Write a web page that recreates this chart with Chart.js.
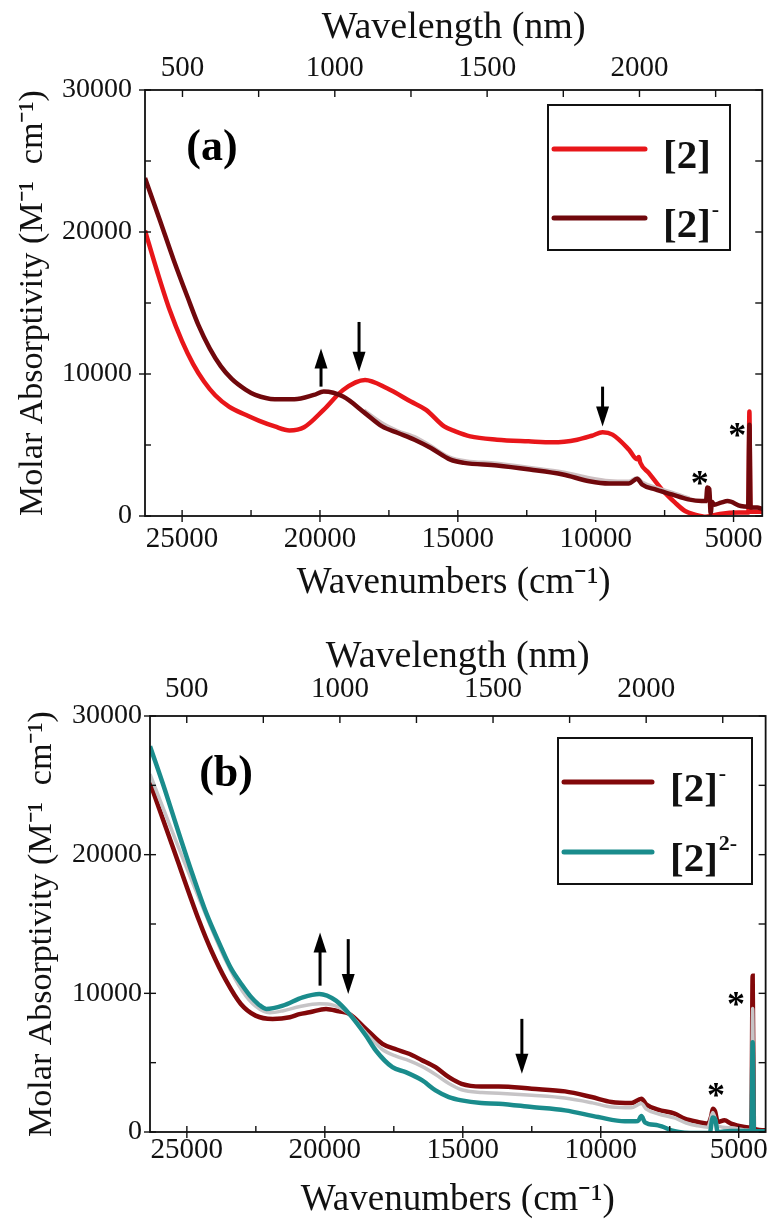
<!DOCTYPE html>
<html>
<head>
<meta charset="utf-8">
<script src="https://cdn.jsdelivr.net/npm/chart.js@4.4.1/dist/chart.umd.min.js"></script>
<style>
  html, body { margin: 0; padding: 0; background: #fff; }
  .panel { position: absolute; left: 0; width: 772px; height: 610px; }
  #pa { top: 0; }
  #pb { top: 610px; }
</style>
</head>
<body>
<div class="panel" id="pa"><canvas id="chartA" width="772" height="610"></canvas></div>
<div class="panel" id="pb"><canvas id="chartB" width="772" height="610"></canvas></div>
<script>
// ---- tick values (shared) ----
const wnMajorTicks = [25000, 20000, 15000, 10000, 5000];
const wnMinorTicks = [22500, 17500, 12500, 7500];
const nmMajorTicks = [500, 1000, 1500, 2000];
const nmMinorTicks = [750, 1250, 1750, 2250];
const absMajorTicks = [0, 10000, 20000, 30000];
const absMinorTicks = [5000, 15000, 25000];

// ---- panel (a): [2] and [2]- ----
const wnRedA = [26346, 25900, 25450, 25000, 24600, 24200, 23800, 23300, 22700, 22200, 21638, 21107, 20577, 19869, 19161, 18365, 17568, 16705, 16153, 15495, 15091, 14550, 13580, 12437, 11553, 10668, 10138, 9750, 9390, 8795, 8500, 8436, 8380, 8077, 7598, 7120, 6760, 6400, 6000, 5500, 4800, 4460, 4425, 4390, 3959];
const absRedA = [20100, 17200, 14500, 12300, 10700, 9450, 8500, 7700, 7125, 6700, 6307, 6027, 6250, 7475, 8877, 9578, 8994, 8060, 7475, 6307, 5957, 5606, 5375, 5256, 5186, 5373, 5653, 5900, 5730, 4675, 4000, 4150, 3750, 3040, 1870, 940, 350, 100, -50, 150, 250, 250, 7360, 300, 300];

const wnDarkA = [26346, 25800, 25300, 24800, 24400, 24000, 23600, 23200, 22700, 22345, 21638, 20930, 20222, 19865, 19161, 18367, 17746, 17170, 16572, 15977, 15269, 14778, 13582, 12386, 11189, 10232, 9514, 8795, 8496, 8317, 7838, 7240, 6641, 6162, 6000, 5950, 5880, 5830, 5780, 5700, 5455, 5216, 4738, 4470, 4425, 4380, 4140, 3959];
const absDarkA = [23800, 20800, 18000, 15400, 13400, 11800, 10550, 9650, 8900, 8526, 8223, 8223, 8526, 8760, 8410, 7246, 6307, 5844, 5375, 4789, 3971, 3742, 3560, 3270, 2920, 2450, 2290, 2290, 2620, 2220, 1870, 1520, 1170, 1050, 1050, 2000, 1900, 200, 1000, 800, 940, 1050, 700, 650, 6430, 600, 590, 500];

const wnGrayA = [18400, 17700, 17200, 16500, 16000, 15300, 14700, 13600, 12400, 11200, 10200, 9500, 8800, 8500, 8300, 7800, 7200, 6600];
const absGrayA = [7450, 6500, 6020, 5520, 4960, 4150, 3880, 3720, 3420, 3100, 2680, 2480, 2440, 2700, 2380, 2000, 1650, 1250];

const legendBaseA = ['[2]', '[2]'];
const legendSupA = ['', '-'];
const arrowWnA = [19962, 18583, 9750];
const arrowFromA = [9110, 13665, 9110];
const arrowToA = [11800, 10160, 6307];
const starWnA = [6227, 4867];
const starAbsA = [2690, 6076];

// ---- panel (b): [2]- and [2]2- ----
const wnDarkB = [26336, 25500, 24556, 24111, 23578, 23044, 22511, 21889, 21267, 20921, 20556, 19957, 19489, 19115, 18513, 17913, 17400, 16949, 16500, 15987, 15505, 15044, 14333, 13700, 12498, 11293, 10332, 9610, 8888, 8527, 8347, 7924, 7322, 6961, 6480, 6119, 6000, 5939, 5860, 5758, 5517, 5277, 4794, 4540, 4495, 4450, 4025];
const absDarkB = [25180, 20500, 15230, 13069, 10911, 9232, 8393, 8153, 8273, 8500, 8633, 8878, 8700, 8518, 7439, 6360, 5950, 5640, 5200, 4676, 3957, 3477, 3285, 3290, 3120, 2930, 2520, 2160, 2090, 2400, 1990, 1610, 1320, 960, 720, 600, 1100, 1680, 1500, 720, 840, 600, 360, 300, 11270, 250, 120];

const wnTealB = [26336, 25800, 25300, 24800, 24300, 23800, 23400, 23000, 22700, 22400, 22123, 21524, 20801, 20199, 19596, 19115, 18513, 18152, 17552, 17070, 16469, 15987, 15505, 15044, 14333, 13700, 12498, 11293, 10090, 9127, 8650, 8527, 8400, 7924, 7322, 6961, 6500, 6050, 5940, 5850, 5760, 5300, 4540, 4495, 4450, 4025];
const absTealB = [27820, 24700, 21600, 18600, 15800, 13500, 11800, 10600, 9800, 9200, 8878, 9115, 9712, 9957, 9475, 8518, 6957, 5878, 4676, 4317, 3719, 3000, 2518, 2278, 2086, 2040, 1800, 1560, 1080, 770, 800, 1150, 700, 480, 50, -50, -80, -50, 1050, 900, 0, 80, 80, 6475, 80, 50];

const wnGrayB = [26336, 25300, 24300, 23600, 23000, 22500, 22000, 21500, 20900, 20200, 19700, 19115, 18513, 17913, 17400, 16949, 16500, 15987, 15505, 15044, 14300, 13700, 12500, 11300, 10300, 9600, 8900, 8530, 8350, 7900, 7300, 6900, 6500, 6120, 5940, 5760, 5300, 4800, 4540, 4495, 4450, 4025];
const absGrayB = [25800, 20500, 15600, 12400, 10200, 9050, 8600, 8750, 9050, 9250, 9150, 8518, 7150, 5950, 5450, 5150, 4750, 4150, 3500, 3050, 2850, 2800, 2650, 2450, 2100, 1800, 1750, 2050, 1650, 1300, 1000, 650, 450, 350, 1400, 450, 300, 150, 100, 8900, 100, 50];

const legendBaseB = ['[2]', '[2]'];
const legendSupB = ['-', '2-'];
const arrowWnB = [20173, 19152, 12859];
const arrowFromB = [10554, 13910, 8158];
const arrowToB = [14388, 9957, 4201];
const starWnB = [5820, 5098];
const starAbsB = [3000, 9597];

Chart.defaults.font.family = "'Liberation Serif', 'Times New Roman', serif";
Chart.defaults.color = '#111';

const SERIF = "'Liberation Serif', 'Times New Roman', serif";

function pts(xs, ys) {
  return xs.map((x, i) => ({ x: x, y: ys[i] }));
}

function series(label, xs, ys, color, width, order) {
  return {
    label: label,
    data: pts(xs, ys),
    borderColor: color,
    backgroundColor: color,
    borderWidth: width,
    pointRadius: 0,
    cubicInterpolationMode: 'monotone',
    fill: false,
    order: order
  };
}

function fixedSize(px) {
  return function (scale) {
    if (scale.isHorizontal()) scale.height = px;
    else scale.width = px;
  };
}

function setTicks(values) {
  return function (scale) {
    scale.ticks = values.map(v => ({ value: v }));
  };
}

function buildScales(p) {
  return {
    x: {
      type: 'linear', position: 'bottom', reverse: true,
      min: p.wnMin, max: p.wnMax,
      afterBuildTicks: setTicks(wnMajorTicks),
      afterFit: fixedSize(p.bottomH),
      ticks: { font: { size: 29, lineHeight: 1 }, padding: p.xTickPad, maxRotation: 0, autoSkip: false, callback: v => String(v) },
      grid: { display: false, drawTicks: false },
      border: { display: false },
      title: { display: true, text: 'Wavenumbers (cm\u207B\u00B9)', font: { size: 37, lineHeight: 1 }, padding: { top: 0, bottom: p.xTitlePad } }
    },
    xTop: {
      type: 'linear', axis: 'x', position: 'top',
      min: p.nmMin, max: p.nmMax,
      afterBuildTicks: setTicks(nmMajorTicks),
      afterFit: fixedSize(p.topH),
      ticks: { font: { size: 29, lineHeight: 1 }, padding: p.topTickPad, maxRotation: 0, autoSkip: false, callback: v => String(v) },
      grid: { display: false, drawTicks: false },
      border: { display: false },
      title: { display: true, text: 'Wavelength (nm)', font: { size: 38, lineHeight: 1 }, padding: { top: p.topTitlePad, bottom: 0 } }
    },
    y: {
      type: 'linear', position: 'left',
      min: 0, max: 30000,
      afterBuildTicks: setTicks(absMajorTicks),
      afterFit: fixedSize(p.leftW),
      ticks: { font: { size: 28, lineHeight: 1 }, padding: p.yTickPad, callback: v => String(v) },
      grid: { display: false, drawTicks: false },
      border: { display: false },
      title: { display: true, text: 'Molar Absorptivity (M\u207B\u00B9  cm\u207B\u00B9)', font: { size: 34, lineHeight: 1 }, padding: { top: p.yTitlePad, bottom: 0 } }
    }
  };
}

function seg(ctx, x0, y0, x1, y1) {
  ctx.beginPath();
  ctx.moveTo(x0, y0);
  ctx.lineTo(x1, y1);
  ctx.stroke();
}

function makeDecor(p) {
  return {
    id: 'decor',
    afterDatasetsDraw(chart) {
      const ctx = chart.ctx;
      const ca = chart.chartArea;
      const x = chart.scales.x, y = chart.scales.y, xt = chart.scales.xTop;
      ctx.save();

      // frame
      ctx.strokeStyle = '#111';
      ctx.lineWidth = 1.8;
      ctx.strokeRect(ca.left, ca.top, ca.right - ca.left, ca.bottom - ca.top);

      // tick marks
      const T = 6;
      ctx.lineWidth = 1.4;
      wnMajorTicks.forEach(v => { const px = x.getPixelForValue(v); seg(ctx, px, ca.bottom - T, px, ca.bottom + T); });
      wnMinorTicks.forEach(v => { const px = x.getPixelForValue(v); seg(ctx, px, ca.bottom - T, px, ca.bottom); });
      nmMajorTicks.concat(nmMinorTicks).forEach(v => { const px = xt.getPixelForValue(v); seg(ctx, px, ca.top, px, ca.top + T + 1); });
      absMajorTicks.forEach(v => {
        const py = y.getPixelForValue(v);
        seg(ctx, ca.left - T, py, ca.left + T, py);
        seg(ctx, ca.right - T - 1, py, ca.right, py);
      });
      absMinorTicks.forEach(v => {
        const py = y.getPixelForValue(v);
        seg(ctx, ca.left, py, ca.left + T, py);
        seg(ctx, ca.right - T - 1, py, ca.right, py);
      });

      // arrows
      ctx.fillStyle = '#000';
      ctx.strokeStyle = '#000';
      p.arrowWn.forEach((wn, i) => {
        const px = x.getPixelForValue(wn);
        const y0 = y.getPixelForValue(p.arrowFrom[i]);
        const y1 = y.getPixelForValue(p.arrowTo[i]);
        const dir = y1 > y0 ? 1 : -1;
        ctx.lineWidth = 3;
        seg(ctx, px, y0, px, y1 - dir * 14);
        ctx.beginPath();
        ctx.moveTo(px, y1);
        ctx.lineTo(px - 6.5, y1 - dir * 20);
        ctx.lineTo(px + 6.5, y1 - dir * 20);
        ctx.closePath();
        ctx.fill();
      });

      // asterisks
      ctx.font = 'bold 36px ' + SERIF;
      ctx.textAlign = 'center';
      ctx.textBaseline = 'alphabetic';
      p.starWn.forEach((wn, i) => {
        const px = x.getPixelForValue(wn);
        const py = y.getPixelForValue(p.starAbs[i]);
        const m = ctx.measureText('*');
        ctx.fillText('*', px, py + (m.actualBoundingBoxAscent - m.actualBoundingBoxDescent) / 2);
      });

      // panel tag
      ctx.font = 'bold 44px ' + SERIF;
      ctx.textBaseline = 'middle';
      ctx.fillText(p.tag, x.getPixelForValue(p.tagWn), y.getPixelForValue(p.tagAbs));

      // legend box
      const lg = p.legend;
      ctx.lineWidth = 2;
      ctx.strokeStyle = '#111';
      ctx.strokeRect(lg.x, lg.y, lg.w, lg.h);
      ctx.textAlign = 'left';
      ctx.textBaseline = 'alphabetic';
      p.legendIdx.forEach((di, k) => {
        const ds = chart.data.datasets[di];
        const ly = lg.rows[k];
        ctx.strokeStyle = ds.borderColor;
        ctx.lineWidth = 5;
        ctx.lineCap = 'round';
        seg(ctx, lg.lineX0, ly, lg.lineX1, ly);
        ctx.lineCap = 'butt';
        ctx.fillStyle = '#111';
        ctx.font = 'bold 41px ' + SERIF;
        ctx.fillText(p.legendBase[k], lg.textX, ly + 19);
        const w = ctx.measureText(p.legendBase[k]).width;
        if (p.legendSup[k]) {
          ctx.font = 'bold 22px ' + SERIF;
          ctx.fillText(p.legendSup[k], lg.textX + w + 1, ly - 2);
        }
      });
      ctx.restore();
    }
  };
}

function makeChart(id, p) {
  return new Chart(document.getElementById(id), {
    type: 'line',
    data: { datasets: p.datasets },
    options: {
      responsive: false,
      animation: false,
      events: [],
      layout: { padding: { left: 0, right: p.rightPad, top: 0, bottom: 0 } },
      scales: buildScales(p),
      plugins: { legend: { display: false }, tooltip: { enabled: false } }
    },
    plugins: [makeDecor(p)]
  });
}

const panelA = {
  wnMin: 3959, wnMax: 26346, nmMin: 377, nmMax: 2403,
  leftW: 145, topH: 90, bottomH: 94, rightPad: 4,
  xTickPad: 9, topTickPad: 7, yTickPad: 13,
  xTitlePad: 8.5, topTitlePad: 9.5, yTitlePad: 16,
  datasets: [
    series('[2]', wnRedA, absRedA, 'rgb(232, 22, 26)', 4.5, 3),
    series('[2]-', wnDarkA, absDarkA, 'rgb(112, 8, 12)', 4.5, 1),
    series('intermediate', wnGrayA, absGrayA, 'rgb(205, 192, 194)', 3.5, 2)
  ],
  legendIdx: [0, 1], legendBase: legendBaseA, legendSup: legendSupA,
  legend: { x: 548, y: 105, w: 182, h: 145, rows: [149, 218], lineX0: 554, lineX1: 645, textX: 663 },
  arrowWn: arrowWnA, arrowFrom: arrowFromA, arrowTo: arrowToA,
  starWn: starWnA, starAbs: starAbsA,
  tag: '(a)', tagWn: 23920, tagAbs: 25900
};

const panelB = {
  wnMin: 4025, wnMax: 26336, nmMin: 380, nmMax: 2390,
  leftW: 150, topH: 106, bottomH: 88, rightPad: 5,
  xTickPad: 4, topTickPad: 12, yTickPad: 8,
  xTitlePad: 1.5, topTitlePad: 28.5, yTitlePad: 25,
  datasets: [
    series('[2]-', wnDarkB, absDarkB, 'rgb(130, 8, 10)', 4.5, 3),
    series('[2]2-', wnTealB, absTealB, 'rgb(26, 140, 140)', 4.5, 1),
    series('intermediate', wnGrayB, absGrayB, 'rgb(198, 196, 198)', 3.5, 2)
  ],
  legendIdx: [0, 1], legendBase: legendBaseB, legendSup: legendSupB,
  legend: { x: 558, y: 128, w: 194, h: 146, rows: [172, 242], lineX0: 564, lineX1: 652, textX: 670 },
  arrowWn: arrowWnB, arrowFrom: arrowFromB, arrowTo: arrowToB,
  starWn: starWnB, starAbs: starAbsB,
  tag: '(b)', tagWn: 23580, tagAbs: 25800
};

makeChart('chartA', panelA);
makeChart('chartB', panelB);
</script>
</body>
</html>
